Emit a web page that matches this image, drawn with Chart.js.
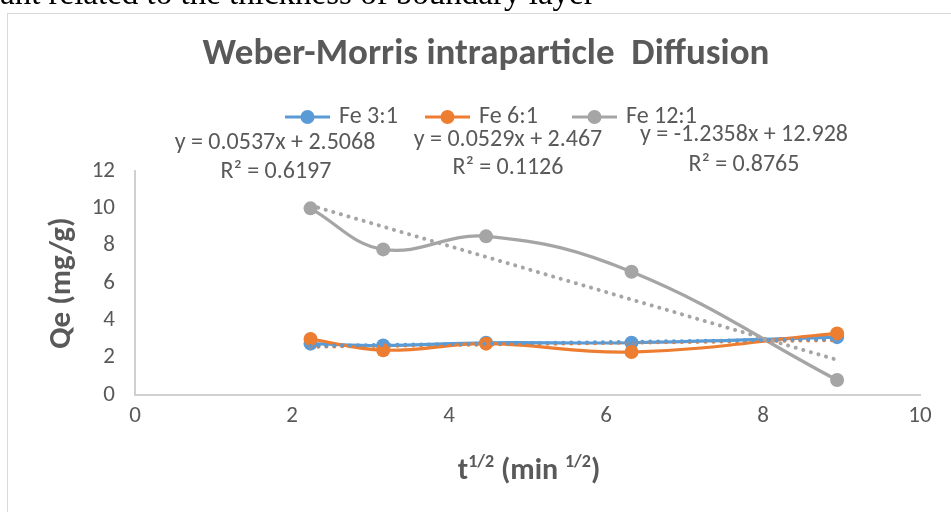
<!DOCTYPE html>
<html>
<head>
<meta charset="utf-8">
<script src="https://cdn.jsdelivr.net/npm/chart.js@4.4.1/dist/chart.umd.min.js"></script>
<style>
  html, body { margin: 0; padding: 0; background: #fff; overflow: hidden; }
  #wrap { position: relative; width: 951px; height: 512px; }
</style>
</head>
<body>
<div id="wrap"><canvas id="chart" width="951" height="512"></canvas></div>
<script>
// t^1/2 values (min^1/2)
const xValues = [2.236, 3.162, 4.472, 6.325, 8.944];
const fe3 = [2.75, 2.65, 2.8, 2.8, 3.1];
const fe6 = [3.0, 2.4, 2.75, 2.3, 3.3];
const fe12 = [10.0, 7.8, 8.5, 6.6, 0.8];
const seriesLabels = ['Fe 3:1', 'Fe 6:1', 'Fe 12:1'];
const colors = ['#5b9bd5', '#ed7d31', '#a5a5a5'];

// linear trendlines, start / end values
const trendX = [2.236, 8.944];
const trendFe3 = [2.63, 2.99];
const trendFe6 = [2.585, 2.94];
const trendFe12 = [10.16, 1.88];
const trendEquations = ['y = 0.0537x + 2.5068', 'y = 0.0529x + 2.467', 'y = -1.2358x + 12.928'];
const trendR2 = ['R² = 0.6197', 'R² = 0.1126', 'R² = 0.8765'];

const FONT = 'Carlito, Lato, sans-serif';
const TEXT = '#595959';

const toPoints = (xs, ys) => xs.map((x, i) => ({ x, y: ys[i] }));

const series = [fe3, fe6, fe12].map((values, i) => ({
  label: seriesLabels[i],
  data: toPoints(xValues, values),
  borderColor: colors[i],
  backgroundColor: colors[i],
  borderWidth: 3.2,
  pointRadius: 7,
  pointHoverRadius: 7,
  pointBorderWidth: 0,
  tension: 0.4,
  showLine: true,
  order: 3 - i + 1,
}));

const trends = [trendFe3, trendFe6, trendFe12].map((values, i) => ({
  label: seriesLabels[i] + ' trend',
  data: toPoints(trendX, values),
  borderColor: colors[i],
  borderWidth: 4,
  borderDash: [0.1, 7.8],
  borderCapStyle: 'round',
  pointRadius: 0,
  showLine: true,
  tension: 0,
  order: 0,
}));

const textPlugin = {
  id: 'textPlugin',
  beforeDraw(chart) {
    const { ctx } = chart;
    ctx.save();
    ctx.fillStyle = '#fff';
    ctx.fillRect(0, 0, chart.width, chart.height);
    ctx.strokeStyle = '#d9d9d9';
    ctx.lineWidth = 1;
    ctx.strokeRect(7.5, 13.5, chart.width + 10, chart.height + 10);
    ctx.restore();
  },
  afterDraw(chart) {
    const { ctx } = chart;
    ctx.save();

    // bit of the document text above the chart
    ctx.fillStyle = '#000';
    ctx.font = '33px "Liberation Serif", serif';
    ctx.textBaseline = 'alphabetic';
    ctx.textAlign = 'left';
    ctx.fillText('ant related to the thickness of boundary layer', 0, 4);

    ctx.fillStyle = TEXT;
    ctx.textAlign = 'center';
    ctx.textBaseline = 'middle';
    ctx.font = 'bold 37px ' + FONT;
    ctx.fillText('Weber-Morris intraparticle  Diffusion', 486, 55);

    // legend
    const legendX = [285, 425, 572];
    ctx.font = '24px ' + FONT;
    seriesLabels.forEach((label, i) => {
      const x0 = legendX[i];
      const y = 117;
      ctx.strokeStyle = colors[i];
      ctx.lineWidth = 3.2;
      ctx.beginPath();
      ctx.moveTo(x0, y);
      ctx.lineTo(x0 + 45, y);
      ctx.stroke();
      ctx.fillStyle = colors[i];
      ctx.beginPath();
      ctx.arc(x0 + 22.5, y, 7, 0, Math.PI * 2);
      ctx.fill();
      ctx.fillStyle = TEXT;
      ctx.textAlign = 'left';
      ctx.fillText(label, x0 + 54, y);
    });

    // trendline labels
    const eqPos = [[275, 143], [508, 140], [744, 135]];
    const r2Pos = [[276, 172], [508, 168], [744, 165]];
    ctx.textAlign = 'center';
    ctx.font = '24px ' + FONT;
    trendEquations.forEach((t, i) => ctx.fillText(t, eqPos[i][0], eqPos[i][1]));
    trendR2.forEach((t, i) => ctx.fillText(t, r2Pos[i][0], r2Pos[i][1]));

    // y axis title
    ctx.save();
    ctx.translate(62, 283);
    ctx.rotate(-Math.PI / 2);
    ctx.font = 'bold 31px ' + FONT;
    ctx.fillText('Qe (mg/g)', 0, 0);
    ctx.restore();

    // x axis title with superscripts
    const parts = [
      ['t', false], ['1/2', true], [' (min ', false], ['1/2', true], [')', false],
    ];
    const big = 'bold 30px ' + FONT;
    const small = 'bold 18px ' + FONT;
    let total = 0;
    parts.forEach(([s, sup]) => { ctx.font = sup ? small : big; total += ctx.measureText(s).width; });
    let x = 529 - total / 2;
    ctx.textAlign = 'left';
    ctx.textBaseline = 'alphabetic';
    parts.forEach(([s, sup]) => {
      ctx.font = sup ? small : big;
      ctx.fillText(s, x, sup ? 467 : 479);
      x += ctx.measureText(s).width;
    });

    ctx.restore();
  },
};

new Chart(document.getElementById('chart'), {
  type: 'scatter',
  data: { datasets: [...series, ...trends] },
  options: {
    responsive: false,
    animation: false,
    layout: { padding: { left: 0, top: 171, right: 31, bottom: 0 } },
    plugins: {
      legend: { display: false },
      title: { display: false },
      tooltip: { enabled: false },
    },
    scales: {
      x: {
        type: 'linear',
        min: 0,
        max: 10,
        ticks: { stepSize: 2, color: TEXT, font: { family: FONT, size: 23 }, padding: 7 },
        grid: { display: false, drawTicks: false },
        border: { color: '#d0d0d0', width: 2 },
        afterFit: s => { s.height = 117; },
      },
      y: {
        min: 0,
        max: 12,
        ticks: { stepSize: 2, color: TEXT, font: { family: FONT, size: 23 }, padding: 20 },
        grid: { display: false, drawTicks: false },
        border: { color: '#d0d0d0', width: 2 },
        afterFit: s => { s.width = 135; },
      },
    },
  },
  plugins: [textPlugin],
});
</script>
</body>
</html>
